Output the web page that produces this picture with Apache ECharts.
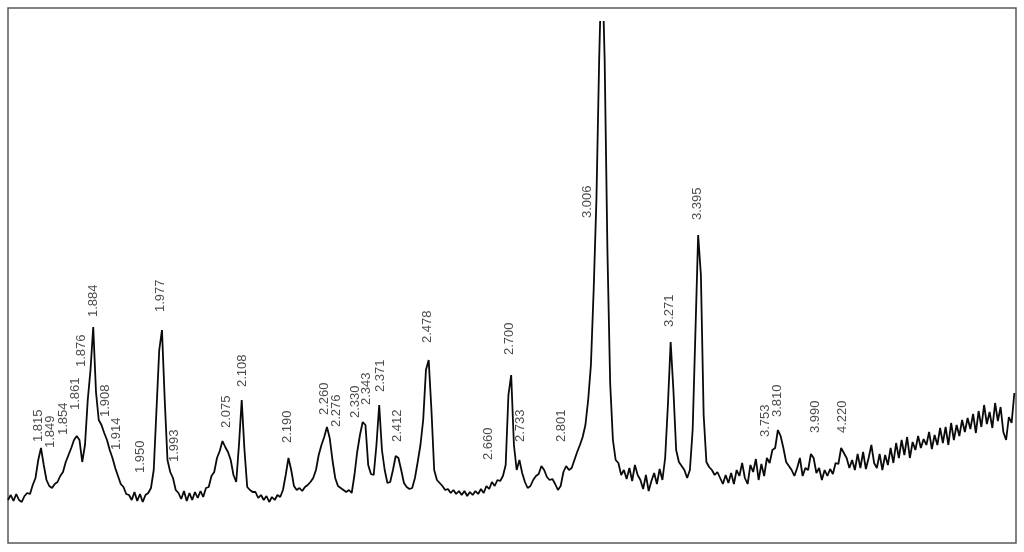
<!DOCTYPE html>
<html>
<head>
<meta charset="utf-8">
<title>XRD</title>
<script src="https://cdn.jsdelivr.net/npm/echarts@6/dist/echarts.min.js"></script>
<style>
  html,body{margin:0;padding:0;background:#fff;}
  #xrd{width:1024px;height:552px;}
</style>
</head>
<body>
<div id="xrd"></div>
<script>
  // scan: 2theta from 51.4 down to 14.8, step 0.1 (Cu Ka), counts
  var scanStart = 51.4;
  var scanStep = 0.1;
  var counts = [
    86, 96, 84, 98, 86, 82, 94, 100, 98, 116,
    130, 166, 190, 156, 126, 114, 110, 118, 122, 134,
    142, 162, 176, 190, 206, 214, 206, 162, 196, 286,
    346, 432, 302, 246, 236, 220, 206, 186, 170, 150,
    134, 118, 112, 98, 96, 86, 102, 84, 98, 82,
    96, 100, 110, 146, 266, 386, 426, 286, 166, 142,
    130, 106, 100, 88, 104, 84, 100, 86, 102, 90,
    104, 92, 110, 112, 134, 142, 170, 184, 204, 192,
    182, 166, 136, 122, 196, 286, 186, 112, 106, 102,
    102, 90, 96, 86, 94, 82, 92, 86, 96, 92,
    106, 136, 170, 146, 114, 106, 110, 104, 112, 116,
    122, 130, 146, 176, 196, 212, 232, 210, 166, 130,
    114, 110, 106, 102, 106, 100, 136, 182, 216, 242,
    236, 156, 138, 136, 196, 276, 186, 146, 120, 122,
    146, 174, 170, 146, 120, 112, 108, 110, 130, 162,
    196, 246, 346, 366, 266, 146, 126, 120, 114, 106,
    108, 100, 106, 98, 104, 96, 104, 94, 102, 96,
    104, 98, 108, 100, 114, 108, 122, 114, 126, 124,
    134, 156, 296, 336, 196, 146, 166, 140, 122, 110,
    114, 126, 134, 138, 154, 146, 132, 126, 128, 118,
    106, 114, 142, 154, 146, 150, 166, 182, 196, 212,
    236, 286, 356, 506, 686, 966, 1186, 966, 586, 320,
    206, 166, 160, 136, 146, 128, 150, 124, 156, 136,
    126, 108, 136, 104, 124, 140, 118, 148, 126, 170,
    276, 402, 306, 186, 162, 154, 146, 130, 146, 226,
    420, 616, 536, 256, 162, 152, 146, 136, 142, 130,
    118, 136, 120, 140, 118, 146, 134, 160, 130, 118,
    156, 142, 168, 126, 158, 134, 170, 160, 186, 190,
    226, 214, 190, 162, 154, 146, 134, 150, 170, 134,
    150, 146, 178, 170, 140, 150, 126, 146, 134, 148,
    138, 160, 158, 190, 180, 170, 150, 166, 146, 178,
    150, 182, 148, 170, 196, 160, 150, 178, 146, 176,
    156, 190, 160, 200, 170, 206, 176, 212, 170, 202,
    186, 214, 190, 208, 196, 222, 188, 216, 196, 230,
    200, 232, 196, 240, 206, 236, 214, 246, 222, 250,
    228, 258, 220, 264, 232, 276, 238, 262, 230, 280,
    244, 272, 222, 206, 252, 240, 300
  ];

  // peak annotations: d-spacing text, and where the text starts (2theta, counts)
  var peakD = ['1.815','1.849','1.854','1.861','1.876','1.884','1.908','1.914','1.950','1.977','1.993',
    '2.075','2.108','2.190','2.260','2.276','2.330','2.343','2.371','2.412','2.478',
    '2.660','2.700','2.733','2.801','3.006','3.271','3.395','3.753','3.810','3.990','4.220'];
  var labelTheta = [50.30, 49.87, 49.39, 48.93, 48.74, 48.30, 47.87, 47.44, 46.60, 45.87, 45.36,
    43.47, 42.89, 41.22, 39.91, 39.44, 38.78, 38.35, 37.87, 37.22, 36.16,
    33.94, 33.18, 32.75, 31.29, 30.34, 27.36, 26.34, 23.84, 23.40, 22.05, 21.04];
  var labelCount = [202, 190, 216, 266, 352, 452, 252, 186, 140, 462, 162,
    230, 312, 200, 256, 232, 250, 276, 302, 202, 400,
    166, 376, 202, 202, 650, 432, 646, 212, 252, 220, 220];

  var trace = counts.map(function(c, i){
    return [+(scanStart - i*scanStep).toFixed(2), c];
  });
  var labels = peakD.map(function(d, i){
    return {value:[labelTheta[i], labelCount[i]], name:d};
  });

  var chart = echarts.init(document.getElementById('xrd'));
  var option = {
    backgroundColor:'#fff',
    animation:false,
    grid:{left:8, right:8, top:22, bottom:9},
    xAxis:{
      type:'value', min:14.74, max:51.4, inverse:true, show:false
    },
    yAxis:{
      type:'value', min:0, max:1042, show:false
    },
    graphic:[{
      type:'rect',
      shape:{x:8, y:8, width:1008, height:535},
      style:{fill:'none', stroke:'#5a5a5a', lineWidth:1.5},
      silent:true
    }],
    series:[
      {
        name:'XRD',
        type:'line',
        data:trace,
        showSymbol:false,
        clip:true,
        lineStyle:{color:'#0a0a0a', width:1.8}
      },
      {
        name:'d',
        type:'scatter',
        data:labels,
        symbolSize:0,
        label:{
          show:true,
          position:'inside',
          rotate:90,
          align:'left',
          verticalAlign:'middle',
          formatter:'{b}',
          fontFamily:'Liberation Sans, Arial, sans-serif',
          fontSize:13,
          color:'#1a1a1a'
        }
      }
    ]
  };
  chart.setOption(option);
</script>
</body>
</html>
